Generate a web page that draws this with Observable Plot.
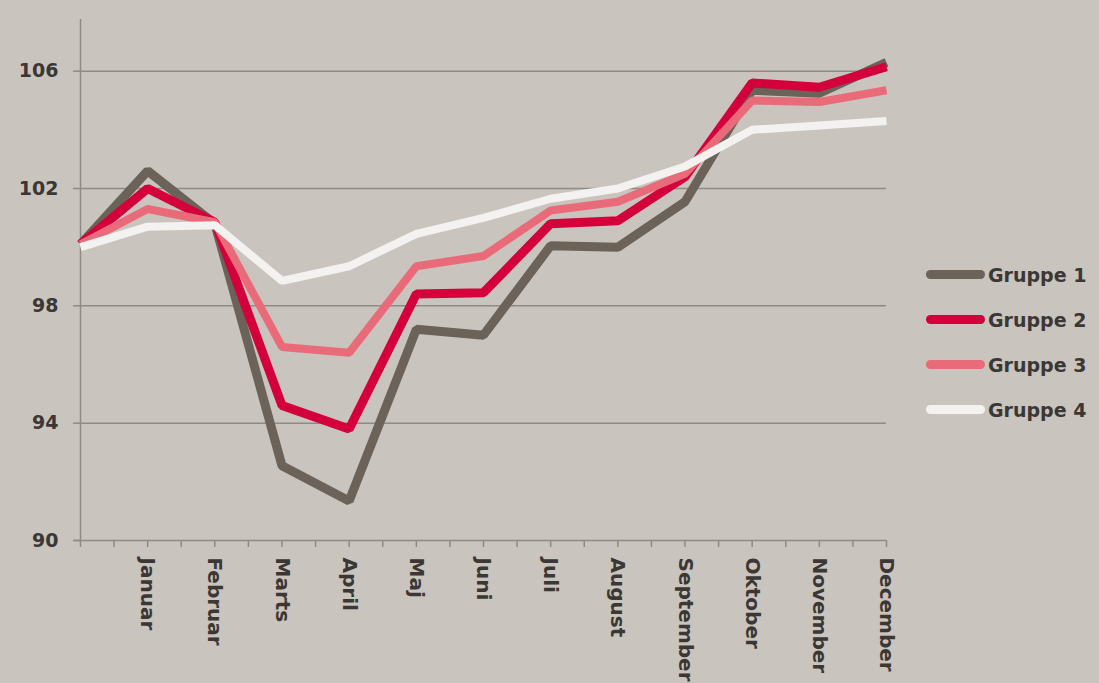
<!DOCTYPE html>
<html>
<head>
<meta charset="utf-8">
<script src="https://cdn.jsdelivr.net/npm/d3@7"></script>
<script src="https://cdn.jsdelivr.net/npm/@observablehq/plot@0.6"></script>
<style>
  html, body { margin: 0; padding: 0; background: #c9c4be; }
  #wrap { position: relative; width: 1099px; height: 683px; overflow: hidden; background: #c9c4be; font-family: "DejaVu Sans", sans-serif; }
  #legend { position: absolute; left: 926px; top: 252px; }
  .item { display: flex; align-items: center; height: 45px; }
  .swatch { width: 59px; height: 9px; border-radius: 5px; margin-right: 3px; }
  .lab { font-size: 19px; font-weight: 700; color: #3b3734; white-space: nowrap; }
</style>
</head>
<body>
<div id="wrap"><div id="chart"></div><div id="legend"></div></div>
<script>
const months = ["", "Januar", "Februar", "Marts", "April", "Maj", "Juni", "Juli", "August", "September", "Oktober", "November", "December"];
const seriesNames = ["Gruppe 1", "Gruppe 2", "Gruppe 3", "Gruppe 4"];
const seriesColors = ["#6b625a", "#d4003b", "#e96b79", "#f4f2f0"];
const gruppe1 = [100.1, 102.6, 100.8, 92.55, 91.35, 97.2, 97.0, 100.05, 100.0, 101.55, 105.35, 105.25, 106.3];
const gruppe2 = [100.1, 102.0, 100.85, 94.6, 93.8, 98.4, 98.45, 100.8, 100.9, 102.4, 105.6, 105.45, 106.15];
const gruppe3 = [100.1, 101.3, 100.85, 96.6, 96.4, 99.35, 99.7, 101.25, 101.55, 102.5, 105.0, 104.95, 105.35];
const gruppe4 = [100.0, 100.7, 100.75, 98.85, 99.35, 100.45, 101.0, 101.65, 102.0, 102.75, 104.0, 104.15, 104.3];
const yTicks = [90, 94, 98, 102, 106];
const gridTicks = [94, 98, 102, 106];

const allSeries = [gruppe1, gruppe2, gruppe3, gruppe4];
const data = allSeries.flatMap((vals, s) => vals.map((v, i) => ({series: seriesNames[s], i, v})));
const minorTicks = d3.range(0, 12.01, 0.5);
const monthTicks = d3.range(1, 13);
const axisColor = "#8e8a86";
const textColor = "#3b3734";

const widths = [9, 9, 8, 8];

const chart = Plot.plot({
  width: 1099,
  height: 683,
  marginLeft: 80,
  marginRight: 213,
  marginTop: 12,
  marginBottom: 143,
  style: {background: "transparent", fontFamily: "'DejaVu Sans', sans-serif", color: textColor},
  x: {domain: [0, 12]},
  y: {domain: [90, 108]},
  marks: [
    Plot.gridY(gridTicks, {stroke: axisColor, strokeOpacity: 1, strokeWidth: 1.5}),
    Plot.ruleX([0], {y1: 90, y2: 108, stroke: axisColor, strokeWidth: 1.5, insetBottom: -7}),
    Plot.ruleY([90], {stroke: axisColor, strokeWidth: 1.5, insetLeft: -7}),
    Plot.axisY(yTicks, {tickSize: 7, tickPadding: 15, stroke: axisColor, strokeWidth: 1.5, fill: textColor, fontSize: 19, fontWeight: 700, label: null}),
    Plot.axisX(minorTicks, {tickSize: 7, stroke: axisColor, strokeWidth: 1.5, tickFormat: () => "", label: null}),
    Plot.axisX(monthTicks, {tickSize: 0, tickPadding: 17, tickRotate: 90, tickFormat: i => months[i], fill: textColor, fontSize: 20, fontWeight: 700, label: null}),
    ...seriesNames.map((name, s) => Plot.line(data.filter(d => d.series === name), {
      x: "i", y: "v", stroke: seriesColors[s], strokeWidth: widths[s], strokeLinejoin: "miter", strokeLinecap: "butt"
    }))
  ]
});
document.getElementById("chart").appendChild(chart);

const legend = document.getElementById("legend");
seriesNames.forEach((name, s) => {
  const item = document.createElement("div");
  item.className = "item";
  item.innerHTML = `<div class="swatch" style="background:${seriesColors[s]}"></div><span class="lab">${name}</span>`;
  legend.appendChild(item);
});
</script>
</body>
</html>
